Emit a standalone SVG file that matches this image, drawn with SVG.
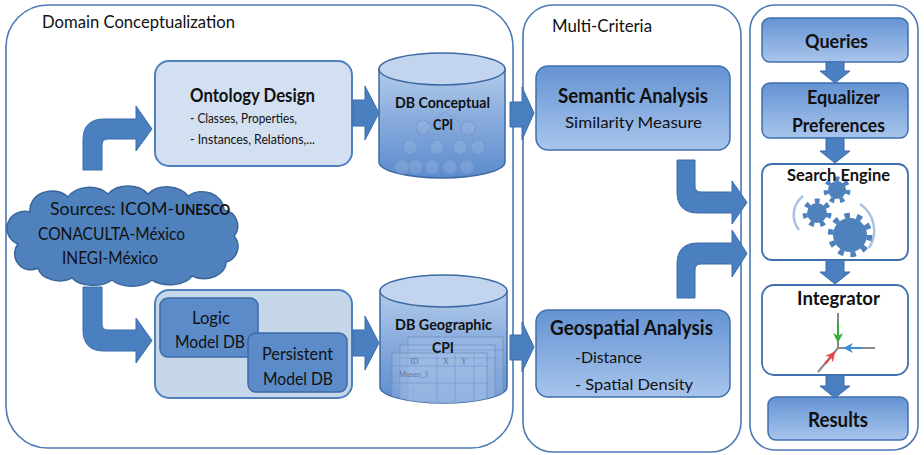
<svg xmlns="http://www.w3.org/2000/svg" width="924" height="455" viewBox="0 0 924 455">
  <defs>
    <style>
      .t { font-family: Lato, "Liberation Sans", sans-serif; fill: #111; }
      .b { font-weight: bold; }
      .frame { fill: #fff; stroke: #4a79b3; stroke-width: 1.6; }
      .light { fill: #d2e0f1; stroke: #4f81bd; stroke-width: 2; }
      .lighter { fill: #c6d7ec; stroke: #4f81bd; stroke-width: 2; }
      .solid { fill: #5b8cc9; stroke: #3d6aa3; stroke-width: 1.5; }
      .grad { fill: url(#boxGrad); stroke: #3f70ad; stroke-width: 1.5; }
      .white { fill: #fff; stroke: #3f70ad; stroke-width: 1.8; }
      .arrow { fill: #4a7fc0; stroke: #3b6cab; stroke-width: 1; }
      .cyl { fill: url(#cylGrad); stroke: #3d6aa3; stroke-width: 1.5; }
      .cyltop { fill: #c3d5ee; stroke: #3d6aa3; stroke-width: 1.5; }
      .node { fill: #a4c0e6; fill-opacity: 0.3; stroke: #6f95cc; stroke-opacity: 0.65; stroke-width: 1.2; }
      .edge { stroke: #6f95cc; stroke-opacity: 0.6; stroke-width: 1; fill: none; }
      .sheet { fill: #a9c4e8; fill-opacity: 0.35; stroke: #6d8cb8; stroke-opacity: 0.7; stroke-width: 1; }
      .cell { font-family: "Liberation Serif", serif; font-size: 8px; fill: #5d7499; }
      .gear { fill: #4f81bd; }
      .gearteeth { fill: none; stroke: #4f81bd; }
      .halo { fill: none; stroke: #a9c2e2; stroke-width: 2.5; }
      .axis { stroke: #8a8a8a; stroke-width: 2; fill: none; }
    </style>
    <linearGradient id="boxGrad" x1="0" y1="0" x2="0" y2="1">
      <stop offset="0" stop-color="#6593d3"/>
      <stop offset="1" stop-color="#a8c5ec"/>
    </linearGradient>
    <linearGradient id="cylGrad" x1="0" y1="0" x2="0" y2="1">
      <stop offset="0" stop-color="#b3cbea"/>
      <stop offset="0.5" stop-color="#85a9dc"/>
      <stop offset="1" stop-color="#5b8bcc"/>
    </linearGradient>
    <clipPath id="geoClip">
      <path d="M380,291 L380,387 A63.5,16 0 0 0 507,387 L507,291 Z"/>
    </clipPath>
    <marker id="mGreen" viewBox="0 0 10 10" refX="8" refY="5" markerWidth="5" markerHeight="5" orient="auto">
      <path d="M0,0 L10,5 L0,10 L3,5 Z" fill="#3aa935"/>
    </marker>
    <marker id="mBlue" viewBox="0 0 10 10" refX="8" refY="5" markerWidth="5" markerHeight="5" orient="auto">
      <path d="M0,0 L10,5 L0,10 L3,5 Z" fill="#3b8fd6"/>
    </marker>
    <marker id="mRed" viewBox="0 0 10 10" refX="8" refY="5" markerWidth="5" markerHeight="5" orient="auto">
      <path d="M0,0 L10,5 L0,10 L3,5 Z" fill="#e8474f"/>
    </marker>
  </defs>

  <rect width="924" height="455" fill="#fff"/>

  <!-- stage containers -->
  <g id="domain-conceptualization">
    <rect class="frame" x="6" y="5" width="507" height="443" rx="42"/>
    <text class="t" x="42" y="28" font-size="18" textLength="193" lengthAdjust="spacingAndGlyphs">Domain Conceptualization</text>
  </g>
  <g id="multi-criteria">
    <rect class="frame" x="523" y="5" width="218" height="447" rx="30"/>
    <text class="t" x="552" y="32" font-size="17" textLength="100" lengthAdjust="spacingAndGlyphs">Multi-Criteria</text>
  </g>
  <g id="search-stage">
    <rect class="frame" x="750" y="5" width="168" height="445" rx="25"/>
  </g>

  <!-- sources cloud -->
  <g id="sources">
    <path d="M18,244 a18,17 0 0 1 12,-32 a22,19 0 0 1 38,-15 a24,18 0 0 1 40,-3 a24,18 0 0 1 40,0 a24,18 0 0 1 40,2 a22,19 0 0 1 36,14 a16,16 0 0 1 10,26 a16,16 0 0 1 -8,26 a22,16 0 0 1 -34,14 a24,14 0 0 1 -40,4 a24,14 0 0 1 -40,0 a24,14 0 0 1 -40,-2 a22,16 0 0 1 -34,-10 a16,16 0 0 1 -20,-24 Z" fill="#4f81bd" stroke="#3a6699" stroke-width="1.5"/>
    <text class="t" x="50" y="215" font-size="18" textLength="124" lengthAdjust="spacingAndGlyphs">Sources:  ICOM-</text>
    <text class="t b" x="175" y="215" font-size="15" textLength="55" lengthAdjust="spacingAndGlyphs">UNESCO</text>
    <text class="t" x="38" y="240" font-size="18" textLength="147" lengthAdjust="spacingAndGlyphs">CONACULTA-México</text>
    <text class="t" x="62" y="264" font-size="18" textLength="96" lengthAdjust="spacingAndGlyphs">INEGI-México</text>
  </g>

  <!-- ontology design -->
  <g id="ontology-design">
    <rect class="light" x="155" y="61" width="197" height="105" rx="14"/>
    <text class="t b" x="190" y="102" font-size="19" textLength="125" lengthAdjust="spacingAndGlyphs">Ontology  Design</text>
    <text class="t" x="190" y="123" font-size="14" textLength="107" lengthAdjust="spacingAndGlyphs">- Classes, Properties,</text>
    <text class="t" x="190" y="144" font-size="14" textLength="125" lengthAdjust="spacingAndGlyphs">- Instances, Relations,...</text>
  </g>

  <!-- logic / persistent model -->
  <g id="model-db">
    <rect class="lighter" x="155" y="290" width="197" height="108" rx="14"/>
    <rect class="solid" x="160" y="298" width="98" height="59" rx="8"/>
    <rect class="solid" x="248" y="333" width="99" height="59" rx="8"/>
    <text class="t" x="192" y="324" font-size="17" textLength="38" lengthAdjust="spacingAndGlyphs">Logic</text>
    <text class="t" x="175" y="348" font-size="17" textLength="70" lengthAdjust="spacingAndGlyphs">Model DB</text>
    <text class="t" x="262" y="360" font-size="17" textLength="71" lengthAdjust="spacingAndGlyphs">Persistent</text>
    <text class="t" x="263" y="385" font-size="17" textLength="70" lengthAdjust="spacingAndGlyphs">Model DB</text>
  </g>

  <!-- conceptual database -->
  <g id="db-conceptual">
    <path class="cyl" d="M379,69 L379,162 A63,16 0 0 0 505,162 L505,69 Z"/>
    <ellipse class="cyltop" cx="442" cy="69" rx="63" ry="16"/>
    <g>
      <path class="edge" d="M445,112 L423,127 M445,112 L468,128 M423,127 L410,147 M423,127 L437,147 M468,128 L460,147 M468,128 L478,147 M410,147 L402,167 M410,147 L415,167 M437,147 L432,167 M460,147 L450,167 M478,147 L467,167"/>
      <circle class="node" cx="423" cy="127" r="7"/>
      <circle class="node" cx="468" cy="128" r="7"/>
      <circle class="node" cx="410" cy="147" r="7"/>
      <circle class="node" cx="437" cy="147" r="7"/>
      <circle class="node" cx="460" cy="147" r="7"/>
      <circle class="node" cx="478" cy="147" r="7"/>
      <circle class="node" cx="402" cy="167" r="7"/>
      <circle class="node" cx="416" cy="167" r="7"/>
      <circle class="node" cx="432" cy="167" r="7"/>
      <circle class="node" cx="450" cy="167" r="7"/>
      <circle class="node" cx="467" cy="167" r="7"/>
    </g>
    <text class="t b" x="395" y="108" font-size="15" textLength="95" lengthAdjust="spacingAndGlyphs">DB Conceptual</text>
    <text class="t b" x="433" y="130" font-size="15" textLength="20" lengthAdjust="spacingAndGlyphs">CPI</text>
  </g>

  <!-- geographic database -->
  <g id="db-geographic">
    <path class="cyl" d="M380,291 L380,387 A63.5,16 0 0 0 507,387 L507,291 Z"/>
    <ellipse class="cyltop" cx="443.5" cy="291" rx="63.5" ry="16"/>
    <g clip-path="url(#geoClip)">
      <rect class="sheet" x="408" y="337" width="95" height="70"/>
      <rect class="sheet" x="400" y="345" width="95" height="70"/>
      <rect class="sheet" x="392" y="353" width="95" height="70"/>
      <path class="edge" d="M392,366 L487,366 M392,383 L487,383 M437,353 L437,413 M455,353 L455,413 M474,353 L474,413 M400,358 L495,358 M408,350 L503,350"/>
      <text class="cell" x="410" y="364">ID</text>
      <text class="cell" x="443" y="364">X</text>
      <text class="cell" x="461" y="364">Y</text>
      <text class="cell" x="478" y="364">..</text>
      <text class="cell" x="399" y="377">Museo_1</text>
      <text class="cell" x="412" y="395">:</text>
    </g>
    <text class="t b" x="395" y="330" font-size="15" textLength="97" lengthAdjust="spacingAndGlyphs">DB Geographic</text>
    <text class="t b" x="432" y="353" font-size="15" textLength="22" lengthAdjust="spacingAndGlyphs">CPI</text>
  </g>

  <!-- analysis boxes -->
  <g id="semantic-analysis">
    <rect class="grad" x="536" y="66" width="194" height="84" rx="12"/>
    <text class="t b" x="558" y="103" font-size="20" textLength="150" lengthAdjust="spacingAndGlyphs">Semantic Analysis</text>
    <text class="t" x="565" y="128" font-size="16" textLength="137" lengthAdjust="spacingAndGlyphs">Similarity Measure</text>
  </g>
  <g id="geospatial-analysis">
    <rect class="grad" x="536" y="310" width="194" height="87" rx="12"/>
    <text class="t b" x="550" y="335" font-size="20" textLength="163" lengthAdjust="spacingAndGlyphs">Geospatial Analysis</text>
    <text class="t" x="575" y="363" font-size="16" textLength="67" lengthAdjust="spacingAndGlyphs">-Distance</text>
    <text class="t" x="575" y="390" font-size="16" textLength="118" lengthAdjust="spacingAndGlyphs">- Spatial Density</text>
  </g>

  <!-- search pipeline -->
  <g id="queries">
    <rect class="grad" x="762" y="18" width="146" height="44" rx="8"/>
    <text class="t b" x="805" y="48" font-size="19" textLength="63" lengthAdjust="spacingAndGlyphs">Queries</text>
  </g>
  <g id="equalizer-preferences">
    <rect class="grad" x="762" y="83" width="146" height="55" rx="8"/>
    <text class="t b" x="807" y="104" font-size="19" textLength="73" lengthAdjust="spacingAndGlyphs">Equalizer</text>
    <text class="t b" x="792" y="132" font-size="19" textLength="93" lengthAdjust="spacingAndGlyphs">Preferences</text>
  </g>
  <g id="search-engine">
    <rect class="white" x="762" y="164" width="146" height="96" rx="10"/>
    <path class="halo" d="M803,196 A24,24 0 0 0 799,230"/>
    <path class="halo" d="M860,204 A32,32 0 0 1 869,248"/>
    <circle class="gear" cx="837" cy="190" r="9"/>
    <circle class="gearteeth" cx="837" cy="190" r="11" stroke-width="5" stroke-dasharray="4.4 5.5"/>
    <circle class="gear" cx="817" cy="213" r="10"/>
    <circle class="gearteeth" cx="817" cy="213" r="12" stroke-width="5" stroke-dasharray="4.8 6"/>
    <circle class="gear" cx="850" cy="235" r="17"/>
    <circle class="gearteeth" cx="850" cy="235" r="19.5" stroke-width="5.5" stroke-dasharray="5.5 6.75"/>
    <text class="t b" x="787" y="181" font-size="17" textLength="103" lengthAdjust="spacingAndGlyphs">Search Engine</text>
  </g>
  <g id="integrator">
    <rect class="white" x="762" y="285" width="146" height="90" rx="12"/>
    <text class="t b" x="797" y="305" font-size="18" textLength="83" lengthAdjust="spacingAndGlyphs">Integrator</text>
    <path class="axis" d="M838,313 L838,348 L875,348 M838,348 L818,372"/>
    <line x1="838" y1="322" x2="838" y2="341" stroke="#3aa935" stroke-width="2" marker-end="url(#mGreen)"/>
    <line x1="862" y1="348" x2="845" y2="348" stroke="#3b8fd6" stroke-width="2" marker-end="url(#mBlue)"/>
    <line x1="825" y1="364" x2="834" y2="353" stroke="#e8474f" stroke-width="2" marker-end="url(#mRed)"/>
  </g>
  <g id="results">
    <rect class="grad" x="768" y="397" width="140" height="43" rx="8"/>
    <text class="t b" x="808" y="427" font-size="20" textLength="60" lengthAdjust="spacingAndGlyphs">Results</text>
  </g>

  <!-- connectors -->
  <g id="connectors">
    <path class="arrow" d="M83,170 L83,140 Q83,119 104,119 L136,119 L136,106 L152,129 L136,151 L136,139 L108,139 Q102,139 102,145 L102,170 Z"/>
    <path class="arrow" d="M83,287 L102,287 L102,324 Q102,330 108,330 L136,330 L136,318 L152,340.5 L136,363 L136,351 L104,351 Q83,351 83,330 Z"/>
    <path class="arrow" d="M353,100 L365,100 L365,86 L379,113 L365,140 L365,126 L353,126 Z"/>
    <path class="arrow" d="M353,330 L365,330 L365,316 L379,343 L365,370 L365,356 L353,356 Z"/>
    <path class="arrow" d="M510,102 L522,102 L522,87 L534,113 L522,140 L522,127 L510,127 Z"/>
    <path class="arrow" d="M510,335 L522,335 L522,322 L534,347 L522,372 L522,360 L510,360 Z"/>
    <path class="arrow" d="M677,160 L695,160 L695,186 Q695,192 701,192 L732,192 L732,181 L747,202.5 L732,224 L732,213 L698,213 Q677,213 677,192 Z"/>
    <path class="arrow" d="M677,298 L677,264 Q677,243 698,243 L732,243 L732,230 L747,253.5 L732,277 L732,264 L701,264 Q695,264 695,270 L695,298 Z"/>
    <path class="arrow" d="M826,62 L844,62 L844,71 L850,71 L835,83 L820,71 L826,71 Z"/>
    <path class="arrow" d="M826,138 L844,138 L844,151 L850,151 L835,163 L820,151 L826,151 Z"/>
    <path class="arrow" d="M826,260 L844,260 L844,272 L850,272 L835,284 L820,272 L826,272 Z"/>
    <path class="arrow" d="M826,375 L844,375 L844,386 L850,386 L835,398 L820,386 L826,386 Z"/>
  </g>
</svg>
